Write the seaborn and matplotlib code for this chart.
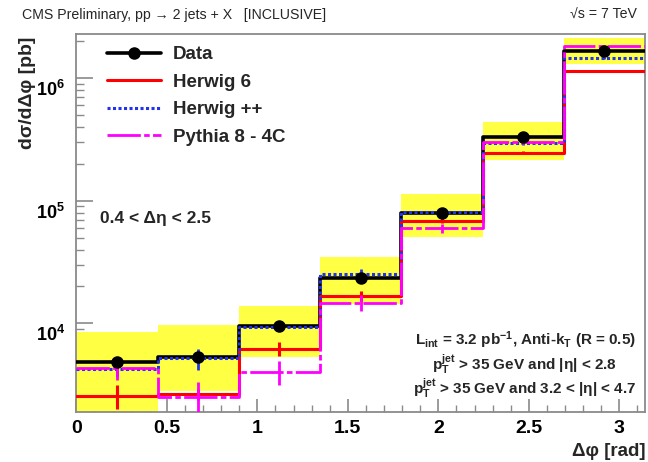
import numpy as np
import pandas as pd
import matplotlib
matplotlib.use("Agg")
import matplotlib.pyplot as plt
import matplotlib.transforms as mtransforms
import seaborn as sns
from matplotlib.lines import Line2D
from matplotlib.ticker import LogLocator, NullFormatter, FuncFormatter, MultipleLocator

# ---------------- data ----------------
bin_edges = [0.0, 0.4488, 0.8976, 1.3464, 1.7952, 2.2440, 2.6928, 3.1416]
data = [4800, 5340, 9500, 23300, 80000, 330000, 1.68e6]
data_rel_err = [0.03, 0.03, 0.03, 0.03, 0.02, 0.02, 0.02]
band_lo = [1500, 2820, 5270, 14300, 50300, 2.15e5, 1.30e6]
band_hi = [8550, 9700, 13900, 34600, 1.14e5, 4.40e5, 2.13e6]
herwig6 = [2560, 2650, 6170, 16800, 68900, 2.47e5, 1.14e6]
herwig6_rel_err = [0.22, 0.10, 0.13, 0.10, 0.05, 0.03, 0.02]
herwigpp = [4230, 5180, 9380, 25100, 81500, 2.95e5, 1.46e6]
herwigpp_rel_err = [0.14, 0.20, 0.05, 0.10, 0.05, 0.03, 0.02]
pythia8 = [4330, 2520, 4030, 14700, 59700, 3.03e5, 1.83e6]
pythia8_rel_err = [0.20, 0.32, 0.22, 0.15, 0.09, 0.04, 0.03]

series_names = ["Data", "Herwig 6", "Herwig ++", "Pythia 8 - 4C"]

# ---------------- style ----------------
sns.set_theme(style="white")
FONT = ["Liberation Sans", "DejaVu Sans"]
plt.rcParams["font.family"] = FONT
plt.rcParams["mathtext.fontset"] = "custom"
plt.rcParams["mathtext.rm"] = "Liberation Sans:bold"
plt.rcParams["mathtext.bf"] = "Liberation Sans:bold"
plt.rcParams["mathtext.it"] = "Liberation Sans:bold"

W, H = 648, 462
fig = plt.figure(figsize=(W / 100, H / 100), dpi=100)
ax = fig.add_axes([76.3 / W, 1 - 411.7 / H, (645 - 76.3) / W, (411.7 - 34) / H])

edges = np.array(bin_edges)
widths = np.diff(edges)
centers = edges[:-1] + widths / 2

# yellow uncertainty band
lo = np.array(band_lo)
hi = np.array(band_hi)
ax.bar(edges[:-1], hi - lo, bottom=lo, width=widths, align="edge",
       color="#ffff44", edgecolor="none", zorder=1)

GREY = "#8a8a8a"
PY_DASH = (0, (12, 1.2, 2, 1.2))
HPP_DOT = (0, (1, 0.8))

def step_line(vals, color, lw, ls, z):
    df = pd.DataFrame({"x": edges, "y": list(vals) + [vals[-1]]})
    sns.lineplot(data=df, x="x", y="y", ax=ax, color=color, lw=lw, linestyle=ls,
                 drawstyle="steps-post", estimator=None, sort=False, zorder=z,
                 legend=False)

def err_bars(vals, rel, color, lw, z):
    v = np.array(vals)
    r = np.array(rel)
    ax.vlines(centers, v * (1 - r), v * (1 + r), colors=color, lw=lw, zorder=z)

step_line(data, "black", 2.6, "-", 3)
step_line(herwig6, "#ff0000", 2.2, "-", 4)
err_bars(herwig6, herwig6_rel_err, "#ff0000", 2.2, 4)
step_line(herwigpp, "#2233ee", 2.2, HPP_DOT, 5)
err_bars(herwigpp, herwigpp_rel_err, "#2233ee", 2.0, 5)
step_line(pythia8, "#ff00ff", 2.0, PY_DASH, 6)
err_bars(pythia8, pythia8_rel_err, "#ff00ff", 2.0, 6)

dv = np.array(data)
de = np.array(data_rel_err)
ax.errorbar(centers, dv, yerr=dv * de, fmt="o", color="black", ms=8,
            elinewidth=2, capsize=0, zorder=8)

ax.set_yscale("log")
ax.set_xlim(0, np.pi)
ax.set_ylim(1897, 2.30e6)

ax.xaxis.set_major_locator(MultipleLocator(0.5))
ax.xaxis.set_minor_locator(MultipleLocator(0.1))
ax.xaxis.set_major_formatter(FuncFormatter(lambda v, p: f"{v:g}"))
ax.yaxis.set_major_locator(LogLocator(base=10))
ax.yaxis.set_minor_locator(LogLocator(base=10, subs=np.arange(2, 10)))
ax.yaxis.set_minor_formatter(NullFormatter())
ax.yaxis.set_major_formatter(FuncFormatter(
    lambda v, p: r"$\mathbf{10^{%d}}$" % int(round(np.log10(v)))))

ax.tick_params(axis="both", which="both", direction="in", colors=GREY,
               labelcolor="black", top=False, right=False, bottom=True, left=True)
ax.tick_params(axis="x", which="major", length=9.5, width=1.2, pad=6, labelsize=14)
ax.tick_params(axis="x", which="minor", length=5, width=1.0)
ax.tick_params(axis="y", which="major", length=12, width=1.2, pad=8, labelsize=13)
ax.tick_params(axis="y", which="minor", length=6, width=1.0)
for lab in ax.get_xticklabels():
    lab.set_fontweight("bold")
offset = mtransforms.ScaledTranslation(0, -10 / 100, fig.dpi_scale_trans)
for lab in ax.get_yticklabels():
    lab.set_transform(lab.get_transform() + offset)
for s in ax.spines.values():
    s.set_color(GREY)
    s.set_linewidth(1.3)
ax.set_xlabel("")
ax.set_ylabel("")

# legend
handles = [
    Line2D([], [], color="black", lw=2.6, marker="o", ms=8),
    Line2D([], [], color="#ff0000", lw=2.2),
    Line2D([], [], color="#2233ee", lw=2.2, linestyle=HPP_DOT),
    Line2D([], [], color="#ff00ff", lw=2.0, linestyle=PY_DASH),
]
leg = ax.legend(handles, series_names, loc="upper left",
                bbox_to_anchor=(107 / W, 1 - 46 / H), bbox_transform=fig.transFigure,
                frameon=False, borderpad=0, borderaxespad=0, handlelength=2.9,
                handletextpad=0.6, labelspacing=0.56,
                prop={"family": FONT, "weight": "bold", "size": 13.5})

# texts
fig.text(22 / W, 1 - 15 / H, "CMS Preliminary, pp \u2192 2 jets + X   [INCLUSIVE]",
         ha="left", va="center", fontsize=10.2, family=FONT)
fig.text(637 / W, 1 - 15 / H, "\u221as = 7 TeV", ha="right", va="center",
         fontsize=10.2, family=FONT)
fig.text(28 / W, 1 - 37 / H, "d\u03c3/d\u0394\u03c6 [pb]", rotation=90, ha="center",
         va="top", fontsize=14, fontweight="bold", family=FONT)
fig.text(645 / W, 1 - 451 / H, "\u0394\u03c6 [rad]", ha="right", va="center",
         fontsize=13.5, fontweight="bold", family=FONT)
fig.text(100 / W, 1 - 218 / H, "0.4 < \u0394\u03b7 < 2.5", ha="left", va="center",
         fontsize=12.5, fontweight="bold", family=FONT)

fig.text(636 / W, 1 - 340 / H,
         r"L$_{\mathbf{int}}$ = 3.2 pb$^{\mathbf{-1}}$, Anti-k$_{\mathbf{T}}$ (R = 0.5)",
         ha="right", va="center", fontsize=11, fontweight="bold", family=FONT)
fig.text(617 / W, 1 - 364 / H,
         r"p$_{\mathbf{T}}^{\mathbf{jet}}$ > 35 GeV and |" + "\u03b7| < 2.8",
         ha="right", va="center", fontsize=11, fontweight="bold", family=FONT)
fig.text(636 / W, 1 - 388 / H,
         r"p$_{\mathbf{T}}^{\mathbf{jet}}$ > 35 GeV and 3.2 < |" + "\u03b7| < 4.7",
         ha="right", va="center", fontsize=11, fontweight="bold", family=FONT)

fig.savefig("out.png", dpi=100)
